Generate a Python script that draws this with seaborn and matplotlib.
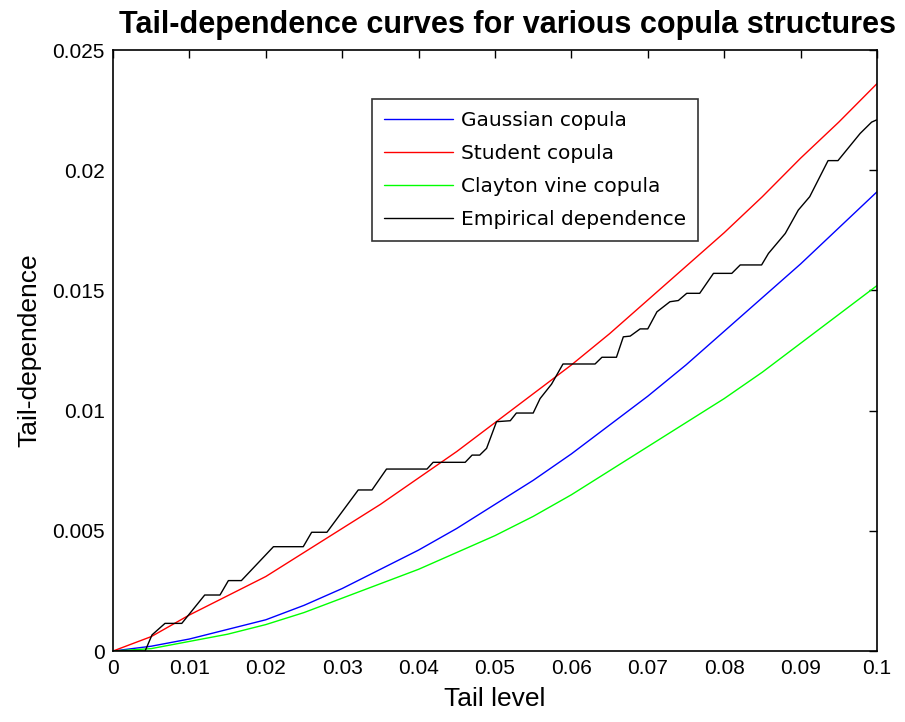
import numpy as np
import pandas as pd
import seaborn as sns
import matplotlib
matplotlib.use("Agg")
import matplotlib.pyplot as plt

# Tail levels at which the model curves are evaluated
tail_grid = [0.000, 0.005, 0.010, 0.015, 0.020, 0.025, 0.030, 0.035, 0.040, 0.045,
             0.050, 0.055, 0.060, 0.065, 0.070, 0.075, 0.080, 0.085, 0.090, 0.095, 0.100]

gaussian = [0.0000, 0.0002, 0.0005, 0.0009, 0.0013, 0.0019, 0.0026, 0.0034, 0.0042, 0.0051,
            0.0061, 0.0071, 0.0082, 0.0094, 0.0106, 0.0119, 0.0133, 0.0147, 0.0161, 0.0176, 0.0191]

student = [0.0000, 0.0006, 0.0015, 0.0023, 0.0031, 0.0041, 0.0051, 0.0061, 0.0072, 0.0083,
           0.0095, 0.0107, 0.0119, 0.0132, 0.0146, 0.0160, 0.0174, 0.0189, 0.0205, 0.0220, 0.0236]

clayton = [0.0000, 0.0001, 0.0004, 0.0007, 0.0011, 0.0016, 0.0022, 0.0028, 0.0034, 0.0041,
           0.0048, 0.0056, 0.0065, 0.0075, 0.0085, 0.0095, 0.0105, 0.0116, 0.0128, 0.0140, 0.0152]

# Empirical tail dependence (breakpoints of the step-like estimate)
emp_level = [0.0000, 0.0042, 0.0051, 0.0068, 0.0090, 0.0120, 0.0140, 0.0151, 0.0168, 0.0210,
             0.0249, 0.0260, 0.0280, 0.0321, 0.0339, 0.0358, 0.0411, 0.0419, 0.0461, 0.0470,
             0.0480, 0.0489, 0.0502, 0.0520, 0.0528, 0.0550, 0.0559, 0.0574, 0.0589, 0.0631,
             0.0640, 0.0659, 0.0668, 0.0677, 0.0690, 0.0700, 0.0712, 0.0729, 0.0740, 0.0751,
             0.0768, 0.0786, 0.0810, 0.0821, 0.0849, 0.0858, 0.0880, 0.0897, 0.0912, 0.0936,
             0.0949, 0.0978, 0.0993, 0.1000]
emp_value = [0.00000, 0.00000, 0.00067, 0.00115, 0.00115, 0.00233, 0.00233, 0.00293, 0.00293, 0.00434,
             0.00434, 0.00494, 0.00494, 0.00670, 0.00670, 0.00757, 0.00757, 0.00785, 0.00785, 0.00815,
             0.00815, 0.00843, 0.00954, 0.00958, 0.00990, 0.00990, 0.01050, 0.01110, 0.01194, 0.01194,
             0.01222, 0.01222, 0.01307, 0.01310, 0.01340, 0.01340, 0.01411, 0.01453, 0.01458, 0.01488,
             0.01488, 0.01571, 0.01571, 0.01606, 0.01606, 0.01654, 0.01737, 0.01834, 0.01890, 0.02040,
             0.02040, 0.02153, 0.02200, 0.02210]

series_names = ["Gaussian copula", "Student copula", "Clayton vine copula", "Empirical dependence"]
series_colors = ["#0000ff", "#ff0000", "#00ff00", "#000000"]

x_ticks = [0, 0.01, 0.02, 0.03, 0.04, 0.05, 0.06, 0.07, 0.08, 0.09, 0.1]
x_tick_labels = ["0", "0.01", "0.02", "0.03", "0.04", "0.05", "0.06", "0.07", "0.08", "0.09", "0.1"]
y_ticks = [0, 0.005, 0.01, 0.015, 0.02, 0.025]
y_tick_labels = ["0", "0.005", "0.01", "0.015", "0.02", "0.025"]

frames = []
for name, vals in zip(series_names[:3], [gaussian, student, clayton]):
    frames.append(pd.DataFrame({"level": tail_grid, "dep": vals, "series": name}))
frames.append(pd.DataFrame({"level": emp_level, "dep": emp_value, "series": series_names[3]}))
df = pd.concat(frames, ignore_index=True)

sns.set_style("white")
plt.rcParams["font.family"] = ["Liberation Sans", "DejaVu Sans"]
plt.rcParams["text.color"] = "black"
plt.rcParams["axes.labelcolor"] = "black"

fig = plt.figure(figsize=(9.05, 7.22), dpi=100)
ax = fig.add_axes([0.1249, 0.0983, 0.8441, 0.8324])

sns.lineplot(data=df, x="level", y="dep", hue="series", hue_order=series_names,
             palette=series_colors, estimator=None, sort=False,
             linewidth=1.0, ax=ax, legend=True)

ax.set_xlim(0, 0.1)
ax.set_ylim(0, 0.025)
ax.set_xticks(x_ticks)
ax.set_xticklabels(x_tick_labels)
ax.set_yticks(y_ticks)
ax.set_yticklabels(y_tick_labels)
ax.tick_params(direction="in", length=6, width=1, top=True, right=True,
               labelsize=15, pad=6, colors="black")
for sp in ax.spines.values():
    sp.set_visible(True)
    sp.set_color("black")
    sp.set_linewidth(1.2)

ax.set_xlabel("Tail level", fontsize=19, labelpad=6)
ax.set_ylabel("Tail-dependence", fontsize=19, labelpad=8)
ax.set_title("Tail-dependence curves for various copula structures",
             fontsize=22, fontweight="bold", pad=12, x=0.517, color="black")

handles, labels = ax.get_legend_handles_labels()
leg = ax.legend(handles, labels, loc="upper left", bbox_to_anchor=(0.339, 0.9185),
                borderaxespad=0, frameon=True, fancybox=False, shadow=False,
                handlelength=3.4, handletextpad=0.4, labelspacing=0.7,
                borderpad=0.6, prop={"family": "DejaVu Sans", "size": 14.5})
leg.get_frame().set_edgecolor("black")
leg.get_frame().set_linewidth(1.2)

fig.savefig("out.png", dpi=100, facecolor="white")
